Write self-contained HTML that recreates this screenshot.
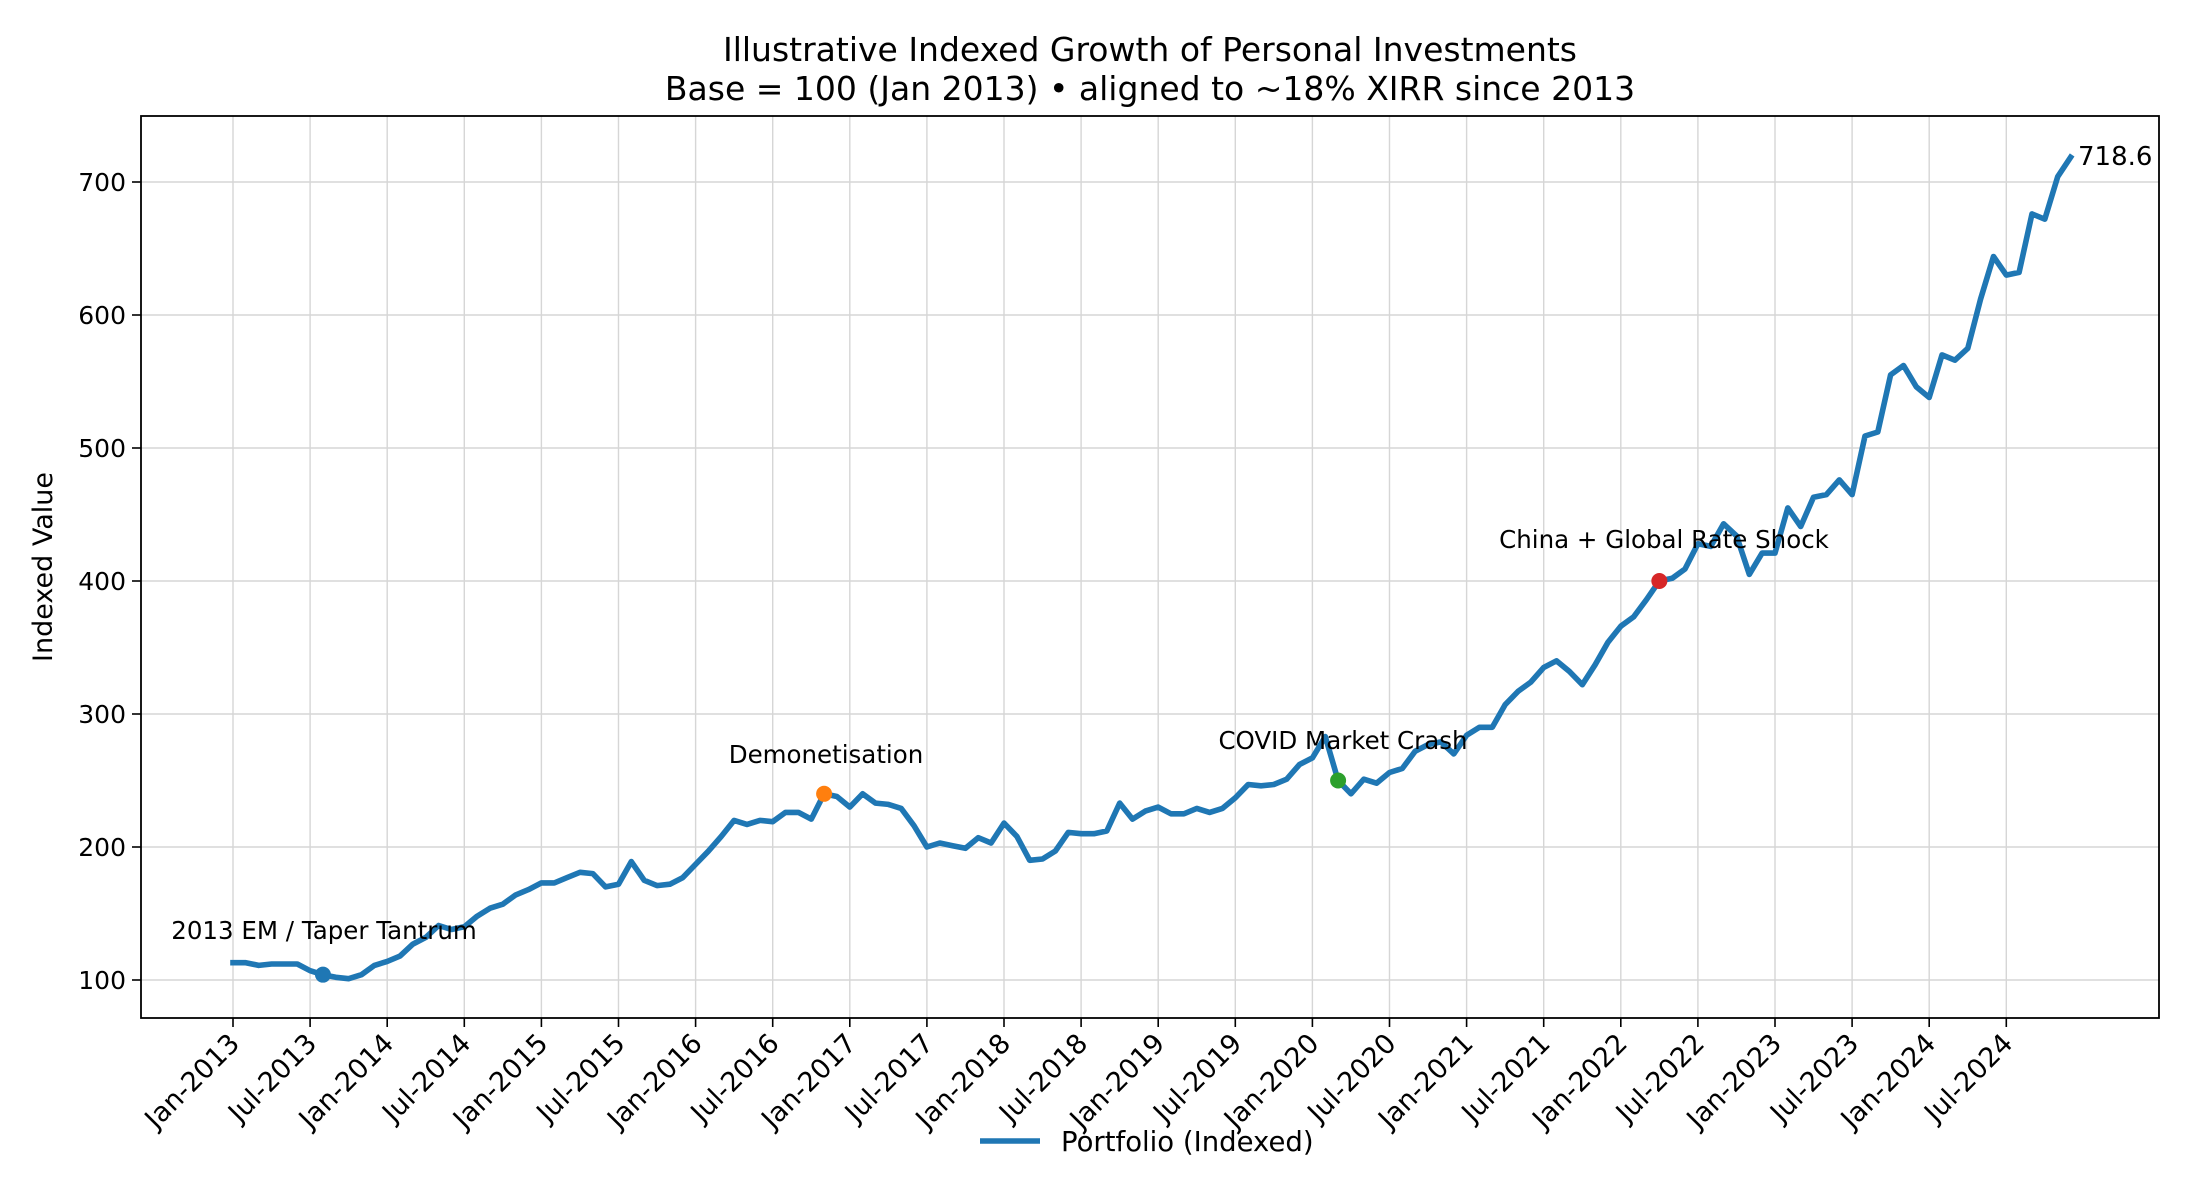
<!DOCTYPE html>
<html><head><meta charset="utf-8"><style>
html,body{margin:0;padding:0;background:#fff;}
svg{display:block;font-family:"DejaVu Sans","Liberation Sans",sans-serif;}
</style></head><body>
<svg id="s" width="2200" height="1200" viewBox="0 0 2200 1200" xmlns="http://www.w3.org/2000/svg">
<rect width="2200" height="1200" fill="#fff"/>
<g id="grid" stroke="#d6d6d6" stroke-width="1.4"></g>
<g id="ticks" stroke="#000" stroke-width="1.6"></g>
<g id="labels" font-size="25" fill="#000"></g>
<g id="xlabels" font-size="27" fill="#000"></g>
<path id="line" fill="none" stroke="#1f77b4" stroke-width="5.6" stroke-linejoin="round" stroke-linecap="square"/>
<g id="marks"></g>
<rect x="141" y="116" width="2018" height="902" fill="none" stroke="#000" stroke-width="1.8"/>
<text x="1150" y="61" font-size="33" text-anchor="middle">Illustrative Indexed Growth of Personal Investments</text>
<text x="1150" y="100" font-size="33" text-anchor="middle">Base = 100 (Jan 2013) • aligned to ~18% XIRR since 2013</text>
<text transform="translate(52,567) rotate(-90)" font-size="27" text-anchor="middle">Indexed Value</text>
<g font-size="24.5">
<text x="324" y="939" text-anchor="middle">2013 EM / Taper Tantrum</text>
<text x="826" y="763" text-anchor="middle">Demonetisation</text>
<text x="1343" y="749" text-anchor="middle">COVID Market Crash</text>
<text x="1664" y="548" text-anchor="middle">China + Global Rate Shock</text>
</g>
<text x="2078" y="165" font-size="26">718.6</text>
<line x1="988" y1="1141" x2="1048" y2="1141" stroke="#1f77b4" stroke-width="5.6" transform="translate(-8,0)"/>
<text x="1061" y="1151" font-size="27.5">Portfolio (Indexed)</text>
</svg>
<script>
var d=[113,113,111,112,112,112,107,104,102,101,104,111,114,118,127,132,141,138,140,148,154,157,164,168,173,173,177,181,180,170,172,189,175,171,172,177,187,197,208,220,217,220,219,226,226,221,240,238,230,240,233,232,229,216,200,203,201,199,207,203,218,208,190,191,197,211,210,210,212,233,221,227,230,225,225,229,226,229,237,247,246,247,251,262,267,283,250,240,251,248,256,259,272,277,279,270,284,290,290,307,317,324,335,340,332,322,337,354,366,373,386,400,402,409,428,426,443,434,405,421,421,455,441,463,465,476,465,509,512,555,562,546,538,570,566,575,612,644,630,632,676,672,704,718.6];
function X(m){return 233+12.85*m;}
function Y(v){return 182+(700-v)*1.33;}
var ns="http://www.w3.org/2000/svg";
function el(p,t,a,txt){var e=document.createElementNS(ns,t);for(var k in a)e.setAttribute(k,a[k]);if(txt)e.textContent=txt;document.getElementById(p).appendChild(e);return e;}
for(var v=100;v<=700;v+=100){var y=Y(v);el('grid','line',{x1:141,x2:2159,y1:y,y2:y});el('ticks','line',{x1:132,x2:141,y1:y,y2:y});el('labels','text',{x:126,y:y+9,'text-anchor':'end'},String(v));}
for(var i=0;i<=23;i++){var x=X(i*6);el('grid','line',{x1:x,x2:x,y1:116,y2:1018});el('ticks','line',{x1:x,x2:x,y1:1018,y2:1027});
var lab=(i%2==0?'Jan-':'Jul-')+(2013+Math.floor(i/2));el('xlabels','text',{transform:'translate('+(x+8)+',1045) rotate(-45)','text-anchor':'end'},lab);}
var p='';for(var m=0;m<d.length;m++){p+=(m?'L':'M')+X(m).toFixed(1)+','+Y(d[m]).toFixed(1);}
document.getElementById('line').setAttribute('d',p);
[[7,104,'#1f77b4'],[46,240,'#ff7f0e'],[86,250,'#2ca02c'],[111,400,'#d62728']].forEach(function(a){el('marks','circle',{cx:X(a[0]),cy:Y(a[1]),r:8,fill:a[2]});});
</script>
</body></html>
